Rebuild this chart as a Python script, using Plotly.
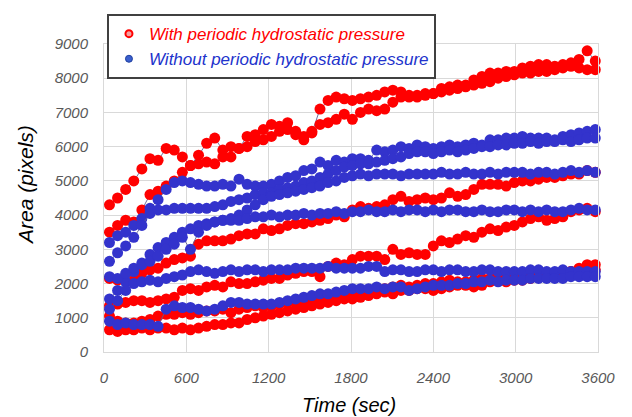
import plotly.graph_objects as go

# sampling times (sec)
time_sec = list(range(40, 3601, 59))

# With periodic hydrostatic pressure (red)
red_1 = [4300,4500,4750,5000,5350,5650,5600,5950,5900,5700,
         5450,5500,5550,5500,5700,6000,5950,6300,6350,6500,
         6650,6600,6700,6450,6200,6400,7100,7350,7450,7400,
         7350,7400,7450,7500,7600,7650,7600,7450,7500,7550,
         7550,7700,7750,7800,7800,7950,8050,8150,8150,8200,
         8200,8300,8350,8400,8400,8350,8400,8450,8550,8800,
         8500]
red_2 = [3500,3700,3850,3800,4150,4600,4700,4850,5000,5250,
         5450,5750,6100,6250,5900,5700,5950,6000,6150,6200,
         6300,6450,6500,6350,6300,6450,6650,6700,6800,6950,
         6800,7000,7100,7050,7100,7300,7450,7500,7450,7500,
         7550,7600,7650,7700,7750,7800,7850,7900,8000,8050,
         8100,8150,8150,8200,8200,8250,8300,8350,8300,8250,
         8250]
red_3 = [2150,2100,2150,2200,2300,2400,2450,2600,2700,2750,
         2800,3150,3250,3250,3250,3300,3400,3450,3450,3600,
         3550,3600,3700,3750,3750,3800,3850,3900,4000,3950,
         4150,4250,4200,4250,4300,4450,4550,4400,4450,4500,
         4450,4500,4650,4550,4600,4750,4900,4900,4900,4850,
         4950,5000,5000,5050,5100,5100,5150,5200,5200,5300,
         5250]
red_4 = [1350,1400,1450,1500,1500,1450,1500,1550,1600,1800,
         1850,1800,1900,1950,1900,2050,2000,2000,2050,2100,
         2150,2150,2250,2300,2350,2350,2200,2500,2600,2550,
         2700,2800,2800,2800,2700,3000,2850,2900,2850,2850,
         3100,3250,3200,3300,3400,3350,3500,3600,3550,3650,
         3700,3800,3900,3950,3850,3900,3950,4100,4150,4200,
         4100]
red_5 = [650,600,650,650,700,650,700,700,650,700,
         650,700,750,800,800,850,850,950,1000,1050,
         1100,1150,1200,1250,1300,1350,1400,1450,1500,1550,
         1550,1600,1650,1700,1750,1700,1800,1800,1850,1850,
         1800,1850,1900,1950,1950,1900,1950,2050,2100,2050,
         2100,2100,2150,2200,2200,2250,2300,2350,2450,2550,
         2550]
red_6 = [1050,900,850,850,900,950,1050,1100,1100,1150,
         1100,1150,1200,1200,1250,1150,1250,1300,1350,1300,
         1350,1400,1450,1450,1500,1550,1550,1600,1650,1700,
         1750,1800,1800,1850,1850,1900,1950,1900,1950,2000,
         2000,2050,2100,2050,2050,2100,2150,2150,2200,2150,
         2200,2250,2250,2300,2300,2300,2350,2350,2400,2450,
         2400]

# Without periodic hydrostatic pressure (blue)
blue_1 = [3200,3400,3500,3700,3900,4200,4450,4750,4950,5000,
          4950,4900,4850,4850,4900,4850,5050,4900,4850,4850,
          4900,5000,5100,5150,5300,5350,5550,5450,5600,5550,
          5650,5650,5600,5900,5850,5900,6000,5950,6050,6000,
          5950,6000,6050,6000,6050,6100,6050,6200,6200,6250,
          6250,6300,6250,6250,6250,6200,6300,6350,6400,6450,
          6500]
blue_2 = [2650,2900,3100,3350,3700,4050,4150,4150,4200,4200,
          4200,4200,4200,4250,4300,4400,4450,4500,4600,4650,
          4650,4750,4800,4850,4950,5000,5100,5200,5300,5400,
          5450,5500,5500,5550,5600,5650,5700,5800,5850,5850,
          5800,5850,5900,5850,5900,5950,6000,6000,6050,6050,
          6100,6100,6150,6100,6150,6150,6200,6150,6200,6250,
          6250]
blue_3 = [1550,1800,2050,2350,2600,2850,3050,3200,3350,3500,
          3600,3700,3750,3800,3850,3900,4000,4150,4300,4450,
          4550,4600,4650,4700,4750,4800,4850,4950,5000,5100,
          5150,5200,5150,5200,5200,5200,5150,5200,5200,5200,
          5200,5250,5200,5200,5250,5200,5200,5250,5200,5250,
          5250,5250,5200,5250,5250,5200,5250,5300,5250,5300,
          5250]
blue_4 = [2200,2150,2300,2450,2550,2650,2800,3000,3150,3350,
          3000,3500,3700,3800,3850,3850,3850,3900,3950,3950,
          4000,3950,4000,4000,4050,4000,4050,4050,4100,4050,
          4100,4100,4150,4100,4100,4150,4100,4150,4150,4100,
          4150,4100,4150,4150,4100,4100,4150,4100,4100,4150,
          4150,4100,4150,4100,4150,4100,4100,4150,4200,4150,
          4150]
blue_5 = [1250,1500,1800,2000,2050,2100,2050,2150,2200,2250,
          2350,2400,2350,2300,2350,2400,2350,2400,2400,2350,
          2400,2400,2400,2450,2450,2450,2450,2500,2450,2450,
          2450,2450,2500,2500,2350,2400,2400,2350,2350,2400,
          2400,2350,2400,2400,2350,2350,2400,2400,2350,2350,
          2350,2350,2400,2400,2350,2350,2400,2350,2350,2350,
          2350]
blue_6 = [900,800,850,800,800,800,750,1250,1350,1300,
          1300,1250,1200,1250,1350,1450,1450,1400,1400,1400,
          1400,1450,1500,1550,1600,1650,1700,1700,1750,1800,
          1850,1850,1850,1900,1850,1900,1900,1800,1850,1900,
          1950,1950,1950,2000,2000,2050,2050,2100,2050,2100,
          2100,2100,2150,2150,2150,2150,2150,2200,2200,2200,
          2200]

red_series = [red_1, red_2, red_3, red_4, red_5, red_6]
blue_series = [blue_1, blue_2, blue_3, blue_4, blue_5, blue_6]
for s in red_series + blue_series:
    assert len(s) == len(time_sec), len(s)

x_ticks = [0, 600, 1200, 1800, 2400, 3000, 3600]
y_ticks = [0, 1000, 2000, 3000, 4000, 5000, 6000, 7000, 8000, 9000]

RED = "#FF0000"
BLUE = "#3333CC"
LINE = "rgba(95,95,150,0.9)"
FONT = "Liberation Sans, Arial, sans-serif"

fig = go.Figure()

for s in red_series:
    fig.add_trace(go.Scatter(x=time_sec, y=s, mode="lines+markers",
                             line=dict(color=LINE, width=1),
                             marker=dict(color=RED, size=11),
                             showlegend=False, cliponaxis=False,
                             legendgroup="red"))
for s in blue_series:
    fig.add_trace(go.Scatter(x=time_sec, y=s, mode="lines+markers",
                             line=dict(color=LINE, width=1),
                             marker=dict(color=BLUE, size=11),
                             showlegend=False, cliponaxis=False,
                             legendgroup="blue"))

# legend entries
fig.add_trace(go.Scatter(x=[None], y=[None], mode="markers",
                         marker=dict(color="#F4A0A0", size=7, line=dict(color=RED, width=2)),
                         name='<span style="color:#FF0000"><i>With periodic hydrostatic pressure</i></span>',
                         legendgroup="red"))
fig.add_trace(go.Scatter(x=[None], y=[None], mode="markers",
                         marker=dict(color="#3A5FCD", size=7, line=dict(color="#2040A0", width=1)),
                         name='<span style="color:#2233CC"><i>Without periodic hydrostatic pressure</i></span>',
                         legendgroup="blue"))

axis_common = dict(showgrid=True, gridcolor="#D9D9D9", gridwidth=1, automargin=False,
                   zeroline=False, showline=True, linecolor="#D9D9D9", linewidth=1,
                   mirror=True, ticks="outside", tickcolor="rgba(0,0,0,0)", ticklen=12,
                   tickfont=dict(family=FONT, size=15, color="#595959", style="italic"))

fig.update_layout(
    width=632, height=417,
    margin=dict(l=104, r=34, t=44, b=65, autoexpand=False),
    paper_bgcolor="white", plot_bgcolor="white",
    font=dict(family=FONT),
    xaxis=dict(range=[0, 3600], tickvals=x_ticks, **axis_common),
    yaxis=dict(range=[0, 9000], tickvals=y_ticks, **axis_common),
    legend=dict(x=0.006, y=1.097, xanchor="left", yanchor="top",
                bgcolor="white", bordercolor="#404040", borderwidth=2,
                font=dict(family=FONT, size=17), tracegroupgap=0,
                traceorder="grouped"),
    annotations=[
        dict(text="<i>Time (sec)</i>", xref="paper", yref="paper", x=0.496, y=-0.172,
             xanchor="center", yanchor="middle", showarrow=False,
             font=dict(family=FONT, size=20, color="#000000")),
        dict(text="<i>Area (pixels)</i>", xref="paper", yref="paper", x=-0.16, y=0.542,
             xanchor="center", yanchor="middle", showarrow=False, textangle=-90,
             font=dict(family=FONT, size=21, color="#000000")),
    ],
)

fig.write_html("out.html",
               config={"displayModeBar": False},
               post_script="document.body.style.margin='0';document.body.style.overflow='hidden';")
